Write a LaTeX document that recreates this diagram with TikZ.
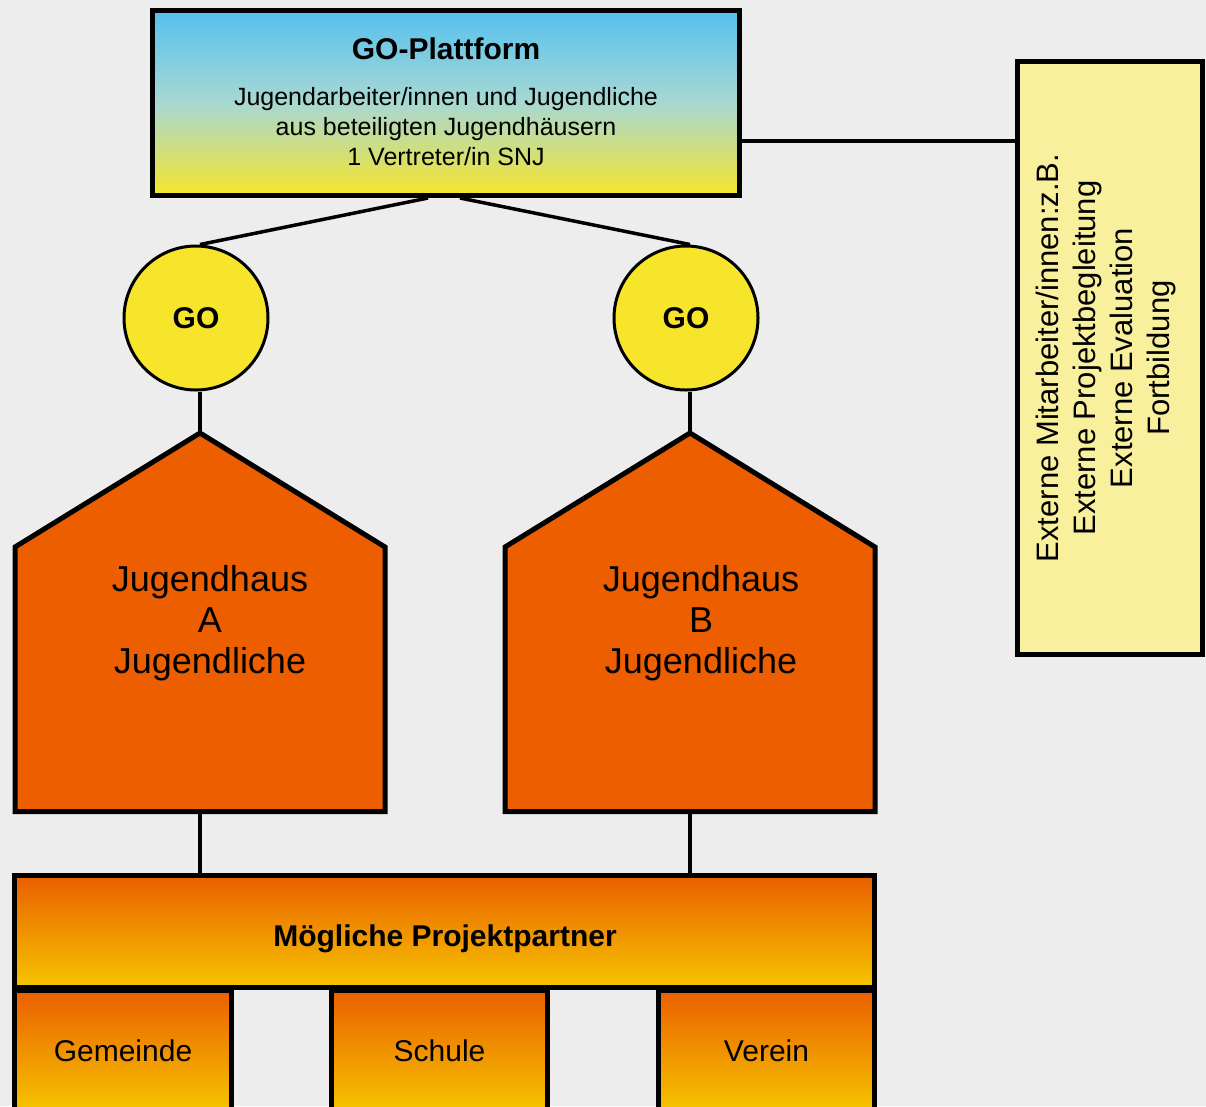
\documentclass[tikz,border=0pt]{standalone}
\usepackage{fontspec}
\setmainfont{Liberation Sans}
\usetikzlibrary{positioning}
\definecolor{bggrey}{HTML}{ECEDEC}
\definecolor{skyblue}{HTML}{55C1EF}
\definecolor{skymid}{HTML}{A8D8D2}
\definecolor{goyellow}{HTML}{F6E52A}
\definecolor{hausorange}{HTML}{EC5E00}
\definecolor{extyellow}{HTML}{F8F09C}
\definecolor{partnertop}{HTML}{EA5F00}
\definecolor{partnerbot}{HTML}{F6C500}
\begin{document}
\begin{tikzpicture}[x=1pt,y=-1pt,
  box/.style={draw=black,line width=5pt,inner sep=0pt},
  partnerbox/.style={box,top color=partnertop,bottom color=partnerbot,font=\fontsize{30}{36}\selectfont},
  gocircle/.style={circle,draw=black,line width=3pt,fill=goyellow,minimum size=144pt,inner sep=0pt,font=\fontsize{30}{36}\selectfont\bfseries},
  haus/.style={draw=black,line width=5pt,fill=hausorange},
  link/.style={line width=3.5pt}]
\useasboundingbox (0,0) rectangle (1206,1106);
\fill[bggrey] (0,0) rectangle (1206,1106);
% Plattform
\node[box,top color=skyblue,bottom color=goyellow,middle color=skymid,minimum width=587pt,minimum height=185pt](plat) at (446,103) {};
\node[font=\fontsize{30}{36}\selectfont\bfseries](platTitle) at (446,49) {GO-Plattform};
\node[align=center,font=\fontsize{25}{30}\selectfont](platText) at (446,127) {Jugendarbeiter/innen und Jugendliche\\aus beteiligten Jugendh\"ausern\\1 Vertreter/in SNJ};
% externe
\node[box,line width=4.5pt,fill=extyellow,minimum width=185pt,minimum height=593pt](ext) at (1110,358) {};
\node[rotate=90,align=center,font=\fontsize{31}{37}\selectfont](extText) at (1106,358) {Externe Mitarbeiter/innen:z.B.\\Externe Projektbegleitung\\Externe Evaluation\\Fortbildung};
\draw[link]([yshift=-38pt]plat.east)--([yshift=-38pt]plat.east -| ext.west);
% GO
\node[gocircle](goA) at (196,318) {GO};
\node[gocircle](goB) at (686,318) {GO};
\draw[link]([xshift=-18pt]plat.south)--([xshift=4pt]goA.north);
\draw[link]([xshift=14pt]plat.south)--([xshift=4pt]goB.north);
% Jugendhaeuser
\draw[haus](200,433)coordinate(roofA)--++(-185,114)--++(0,264.5)--++(370,0)--++(0,-264.5)--cycle;
\draw[haus](690,433)coordinate(roofB)--++(-185,114)--++(0,264.5)--++(370,0)--++(0,-264.5)--cycle;
\node[align=center,font=\fontsize{36}{41}\selectfont](hausA) at (210,623) {Jugendhaus\\A\\Jugendliche};
\node[align=center,font=\fontsize{36}{41}\selectfont](hausB) at (701,623) {Jugendhaus\\B\\Jugendliche};
\draw[link](roofA |- goA.south)--(roofA);
\draw[link](roofB |- goB.south)--(roofB);
\coordinate(footA) at (200,814);
\coordinate(footB) at (690,814);
% Projektpartner
\node[partnerbox,minimum width=860pt,minimum height=112pt](partner) at (444.5,931.5) {};
\node[font=\fontsize{30}{36}\selectfont\bfseries](partnerText) at (445,939) {M\"ogliche Projektpartner};
\draw[link](footA)--(footA |- partner.north);
\draw[link](footB)--(footB |- partner.north);
\node[partnerbox,minimum width=217pt,minimum height=122pt](gemeinde) at (123,1051) {Gemeinde};
\node[partnerbox,minimum width=216pt,minimum height=122pt](schule) at (439.5,1051) {Schule};
\node[partnerbox,minimum width=216pt,minimum height=122pt](verein) at (766.5,1051) {Verein};
\end{tikzpicture}
\end{document}
